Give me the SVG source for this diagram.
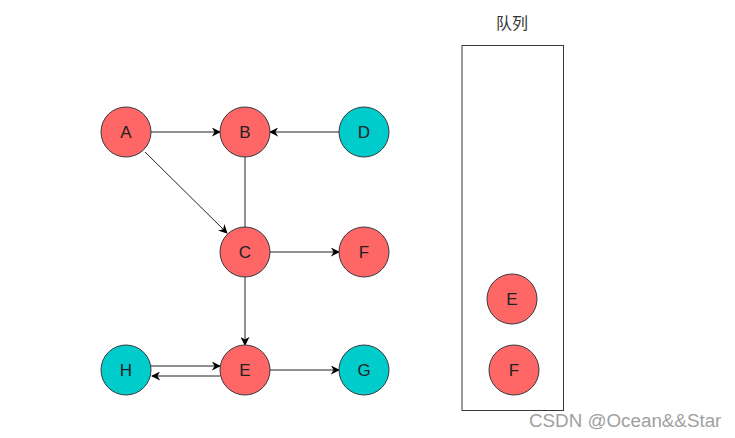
<svg xmlns="http://www.w3.org/2000/svg" width="735" height="438" viewBox="0 0 735 438">
<style>
  .red { fill: #FF6666; stroke: #36393d; stroke-width: 1; }
  .teal { fill: #00CCCC; stroke: #36393d; stroke-width: 1; }
  .lbl { font-family: "Liberation Sans", Arial, sans-serif; font-size: 17px; fill: #222; text-anchor: middle; dominant-baseline: central; }
  .edge { stroke: #222; stroke-width: 1; fill: none; }
  .arr { marker-end: url(#ah); }
</style>
<defs>
  <marker id="ah" viewBox="0 0 10 10" refX="9" refY="5" markerWidth="9" markerHeight="9" markerUnits="userSpaceOnUse" orient="auto">
    <path d="M0,0 L10,5 L0,10 L3,5 Z" fill="#000"/>
  </marker>
</defs>
<rect width="735" height="438" fill="#fff"/>

<g id="connectors">
  <line class="edge arr" x1="151" y1="132" x2="220" y2="132"/>
  <line class="edge arr" x1="339" y1="132" x2="270" y2="132"/>
  <line class="edge" x1="245" y1="157" x2="245" y2="227"/>
  <line class="edge arr" x1="145" y1="152" x2="227" y2="233"/>
  <line class="edge arr" x1="270" y1="252" x2="339" y2="252"/>
  <line class="edge arr" x1="245" y1="277" x2="245" y2="345"/>
  <line class="edge arr" x1="151" y1="366" x2="220" y2="366"/>
  <line class="edge arr" x1="220" y1="376" x2="152" y2="376"/>
  <line class="edge arr" x1="270" y1="370" x2="339" y2="370"/>
</g>

<g id="node-A"><circle class="red" cx="126" cy="132" r="25"/><text class="lbl" x="126" y="132">A</text></g>
<g id="node-B"><circle class="red" cx="245" cy="132" r="25"/><text class="lbl" x="245" y="132">B</text></g>
<g id="node-D"><circle class="teal" cx="364" cy="132" r="25"/><text class="lbl" x="364" y="132">D</text></g>
<g id="node-C"><circle class="red" cx="245" cy="252" r="25"/><text class="lbl" x="245" y="252">C</text></g>
<g id="node-F"><circle class="red" cx="364" cy="252" r="25"/><text class="lbl" x="364" y="252">F</text></g>
<g id="node-H"><circle class="teal" cx="126" cy="370" r="25"/><text class="lbl" x="126" y="370">H</text></g>
<g id="node-E"><circle class="red" cx="245" cy="370" r="25"/><text class="lbl" x="245" y="370">E</text></g>
<g id="node-G"><circle class="teal" cx="364" cy="370" r="25"/><text class="lbl" x="364" y="370">G</text></g>

<g id="queue">
  <text x="512" y="23" font-family="'Liberation Sans', 'Noto Sans CJK SC', sans-serif" font-size="16" fill="#333" text-anchor="middle" dominant-baseline="central">队列</text>
  <rect x="462" y="45.5" width="101.5" height="365" fill="#fff" stroke="#36393d" stroke-width="1"/>
</g>
<g id="queue-E"><circle class="red" cx="512" cy="299" r="25"/><text class="lbl" x="512" y="299">E</text></g>
<g id="queue-F"><circle class="red" cx="514" cy="370" r="25"/><text class="lbl" x="514" y="370">F</text></g>

<text x="529" y="427" font-family="'Liberation Sans', Arial, sans-serif" font-size="18.8" fill="#a0a0a0">CSDN @Ocean&amp;&amp;Star</text>
</svg>
